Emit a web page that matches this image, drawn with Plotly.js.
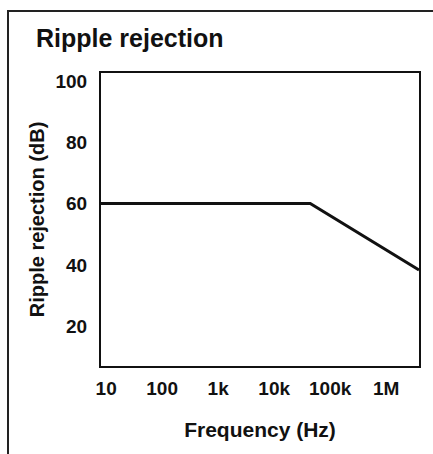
<!DOCTYPE html>
<html>
<head>
<meta charset="utf-8">
<script src="https://cdn.plot.ly/plotly-3.0.1.min.js"></script>
<style>
html,body{margin:0;padding:0;background:#fff;}
#wrap{position:relative;width:433px;height:454px;overflow:hidden;}
#frame{position:absolute;left:7px;top:10px;width:440px;height:460px;border:2px solid #222;box-sizing:border-box;pointer-events:none;}
#chart{position:absolute;left:0;top:0;width:433px;height:454px;}
</style>
</head>
<body>
<div id="wrap">
<div id="chart"></div>
<div id="frame"></div>
</div>
<script>
// Data
const frequencyHz = [8.1, 44000, 3850000];
const rippleRejectionDb = [60, 60, 38.3];
const xTickVals = [10, 100, 1000, 10000, 100000, 1000000];
const xTickText = ['10', '100', '1k', '10k', '100k', '1M'];
const yTickVals = [20, 40, 60, 80, 100];

const fontFam = 'Arial, "Liberation Sans", sans-serif';

const trace = {
  x: frequencyHz,
  y: rippleRejectionDb,
  type: 'scatter',
  mode: 'lines',
  line: {color: '#111', width: 3},
  hoverinfo: 'skip'
};

const layout = {
  width: 433,
  height: 454,
  margin: {l: 101, r: 14, t: 73, b: 88},
  paper_bgcolor: '#fff',
  plot_bgcolor: '#fff',
  showlegend: false,
  font: {family: fontFam, color: '#111', size: 19, weight: 'bold'},
  title: {
    text: 'Ripple rejection',
    font: {family: fontFam, size: 25, color: '#111', weight: 'bold'},
    xref: 'container', yref: 'container',
    x: 36/433, xanchor: 'left',
    y: 1 - 38/454, yanchor: 'middle'
  },
  xaxis: {
    type: 'log',
    range: [Math.log10(8.1), Math.log10(3850000)],
    tickvals: xTickVals,
    ticktext: xTickText,
    ticks: '',
    showgrid: false,
    zeroline: false,
    showline: true,
    mirror: true,
    linecolor: '#111',
    linewidth: 2,
    ticklabelstandoff: 4,
    tickfont: {family: fontFam, size: 19, color: '#111', weight: 'bold'},
    title: {text: 'Frequency (Hz)', standoff: 25, font: {family: fontFam, size: 21, color: '#111', weight: 'bold'}},
    automargin: false,
    fixedrange: true
  },
  yaxis: {
    range: [7.0, 102.6],
    tickvals: yTickVals,
    ticks: '',
    showgrid: false,
    zeroline: false,
    showline: true,
    mirror: true,
    linecolor: '#111',
    linewidth: 2,
    ticklabelstandoff: 8,
    tickfont: {family: fontFam, size: 19, color: '#111', weight: 'bold'},
    title: {text: 'Ripple rejection (dB)', standoff: 5, font: {family: fontFam, size: 20, color: '#111', weight: 'bold'}},
    automargin: false,
    fixedrange: true
  }
};

Plotly.newPlot('chart', [trace], layout, {staticPlot: true, displayModeBar: false});
</script>
</body>
</html>
